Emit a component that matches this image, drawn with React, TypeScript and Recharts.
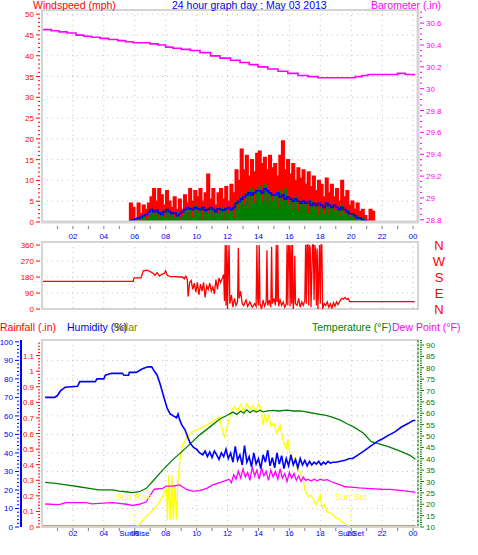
import React from "react";
import {
  ComposedChart,
  Area,
  Line,
  XAxis,
  YAxis,
  CartesianGrid,
  ReferenceArea,
  ReferenceLine,
  ReferenceDot,
} from "recharts";

type Pt = [number, number];

// wind samples every 10 minutes starting 05:30 (mph)
const windStart = 5.5;
const windStep = 1 / 6;
const windGust = [
  0, 4.5, 3.5,
  0.5, 4.5, 2, 4, 3, 4.5,
  6, 8, 5, 8, 6.5, 4,
  7.5, 5, 3.5, 6, 3, 5.5,
  3, 6.5, 4.5, 8, 5, 7.5,
  6, 8, 5, 7, 11.5, 5.5,
  8, 4, 7, 8, 5.5, 8.5,
  5, 9, 7, 12.5, 10, 17.5,
  12.5, 16, 11, 15, 12, 16.5,
  17, 14, 15.5, 12.5, 16, 13,
  14, 11, 16, 19.5, 12.5, 15,
  11.5, 14, 10, 13, 10.5, 12.5,
  9, 12, 8.5, 11, 7.5, 10,
  9, 6, 10.5, 7, 9, 6,
  8, 5, 10, 6, 7.5, 4,
  5, 3, 4.5, 2.5, 3, 1.5,
  0.5, 3, 2.5, 0,
];
const windSpeed = [
  0, 0.5, 0,
  0, 1, 0, 1.5, 0.5, 1,
  2.5, 1.5, 3, 0.5, 2.5, 1,
  3, 0.5, 2, 1, 2.5, 0,
  1.5, 3, 0.5, 3.5, 1, 4,
  2, 3.5, 0.5, 3, 2, 3.5,
  1, 3, 2, 3.5, 0.5, 3,
  2, 3.5, 1, 5, 3, 6,
  4, 7, 3, 8, 4.5, 7.5,
  8.5, 5, 9, 4, 7, 5,
  6.5, 3, 7.5, 5, 8, 4,
  5.5, 3, 6, 2.5, 5, 3.5,
  4.5, 2, 5, 3, 4, 1.5,
  3.5, 2, 4.5, 1.5, 4, 2.5,
  3, 1.5, 4, 2, 3, 1,
  2, 0.5, 1.5, 0.5, 1, 0,
  0, 0, 0, 0,
];
const windAvg = [
  0, 0.3, 0.5,
  0.8, 1, 1.2, 1.5, 1.8, 2.5,
  3, 2.5, 2.8, 2.2, 1.8, 2.5,
  3, 2.5, 2, 2.2, 1.5, 2,
  2.5, 3, 3.5, 3.2, 3, 3.5,
  3.2, 3, 3.5, 2.8, 3, 3.5,
  3, 2.5, 3.2, 3, 2.8, 3.2,
  3.5, 3, 3.5, 4.5, 5, 5.5,
  6, 6.5, 7, 6.5, 7, 7.5,
  7.5, 7, 8, 7.5, 7, 6.5,
  6.5, 7, 6, 6.5, 5.5, 6,
  5.5, 5, 5.5, 5, 4.5, 5,
  4.5, 5, 4, 4.5, 4, 4.5,
  4, 3.5, 4.5, 4, 3.5, 4,
  3.5, 3, 3.5, 3, 2.5, 2,
  2, 1.5, 1, 1, 0.5, 0.3,
  0, 0, 0, 0,
];

// barometer (in)
const barometer: Pt[] = [
  [0.06, 30.54], [0.6, 30.53], [1.1, 30.52], [1.62, 30.51], [2.2, 30.49], [2.7, 30.48],
  [3.2, 30.47], [3.75, 30.46], [4.3, 30.45], [4.9, 30.44], [5.4, 30.43], [5.89, 30.42],
  [6.5, 30.42], [6.99, 30.41], [7.5, 30.4], [8.0, 30.38], [8.47, 30.37], [9.0, 30.36],
  [9.6, 30.35], [10.22, 30.33], [10.9, 30.3], [11.51, 30.28], [12.2, 30.26], [12.81, 30.24],
  [13.4, 30.22], [13.97, 30.2], [14.6, 30.18], [15.27, 30.16], [15.9, 30.14], [16.56, 30.12],
  [17.2, 30.11], [17.85, 30.1], [18.4, 30.1], [18.95, 30.1], [19.6, 30.1], [20.25, 30.11],
  [20.7, 30.12], [21.09, 30.13], [21.7, 30.13], [22.38, 30.13], [23.0, 30.14], [23.5, 30.13],
  [24.13, 30.13],
];

// wind direction (degrees)
const windDirection: Pt[] = [
  [0.05, 155], [5.9, 155], [5.95, 175], [6.4, 175], [6.55, 215], [6.8, 218], [7.0, 210],
  [7.2, 200], [7.3, 190], [7.45, 205], [7.6, 185], [7.75, 195], [7.9, 200], [8.0, 215],
  [8.1, 190], [8.3, 182], [8.6, 182], [8.9, 180], [9.1, 180], [9.2, 170], [9.3, 185],
  [9.4, 165], [9.45, 70], [9.55, 150], [9.65, 160], [9.75, 110], [9.85, 145], [9.95, 95],
  [10.05, 150], [10.15, 80], [10.25, 140], [10.35, 100], [10.45, 150], [10.55, 65],
  [10.65, 130], [10.75, 110], [10.85, 145], [10.95, 100], [11.05, 125], [11.15, 85],
  [11.25, 165], [11.35, 110], [11.45, 175], [11.55, 150], [11.65, 170], [11.75, 195],
  [11.8, 45], [11.85, 360], [11.9, 20], [11.95, 360], [12.0, 0], [12.05, 250], [12.1, 360],
  [12.15, 30], [12.25, 80], [12.35, 10], [12.45, 60], [12.55, 20], [12.65, 40], [12.7, 345],
  [12.75, 60], [12.85, 100], [12.95, 30], [13.05, 20], [13.2, 50], [13.3, 15], [13.45, 40],
  [13.6, 10], [13.75, 30], [13.85, 15], [13.9, 360], [13.95, 60], [14.0, 20], [14.05, 360],
  [14.1, 30], [14.2, 0], [14.3, 50], [14.4, 15], [14.5, 40], [14.55, 330], [14.6, 20],
  [14.7, 50], [14.8, 10], [14.85, 350], [14.9, 30], [15.0, 60], [15.1, 20], [15.15, 360],
  [15.2, 40], [15.25, 360], [15.3, 15], [15.4, 50], [15.5, 20], [15.6, 40], [15.7, 10],
  [15.8, 30], [15.85, 360], [15.9, 20], [15.95, 360], [16.0, 350], [16.05, 15], [16.1, 360],
  [16.15, 30], [16.2, 360], [16.25, 0], [16.3, 50], [16.35, 300], [16.4, 30], [16.5, 20],
  [16.6, 60], [16.7, 10], [16.8, 40], [16.9, 20], [17.0, 50], [17.05, 360], [17.1, 30],
  [17.15, 360], [17.2, 360], [17.25, 20], [17.3, 360], [17.35, 340], [17.4, 10], [17.5, 360],
  [17.55, 360], [17.6, 50], [17.65, 360], [17.7, 320], [17.75, 20], [17.8, 340], [17.85, 0],
  [17.95, 360], [18.0, 30], [18.05, 360], [18.1, 360], [18.15, 0], [18.25, 30], [18.35, 20],
  [18.45, 40], [18.55, 10], [18.65, 30], [18.75, 5], [18.85, 35], [18.95, 15], [19.05, 40],
  [19.15, 25], [19.3, 50], [19.4, 60], [19.5, 55], [19.6, 65], [19.7, 55], [19.8, 60],
  [19.9, 42], [24.1, 42],
];

// rainfall (in)
const rainfall: Pt[] = [[0.05, 0], [24.15, 0]];

// humidity (%)
const humidity: Pt[] = [
  [0.2, 70], [0.8, 70], [1.0, 71], [1.2, 73.5], [1.5, 75.5], [2.3, 76], [2.45, 78.5],
  [3.45, 78.5], [3.55, 80], [4.0, 80], [4.1, 82], [4.5, 83], [5.2, 83], [5.3, 82], [5.6, 82],
  [5.65, 83.5], [6.1, 83.5], [6.2, 84], [6.5, 85.5], [6.85, 86.5], [7.1, 86.5], [7.2, 85],
  [7.45, 82], [7.65, 77], [7.85, 71], [8.1, 64], [8.3, 61], [8.5, 60], [8.7, 59], [8.8, 61],
  [8.9, 58], [9.05, 55], [9.25, 52.5], [9.45, 48], [9.6, 45], [9.8, 43], [10.0, 42],
  [10.2, 40], [10.4, 39], [10.55, 41], [10.7, 38], [10.85, 40.5], [11.0, 37.5], [11.15, 41],
  [11.3, 39], [11.45, 36.5], [11.6, 40], [11.75, 38], [11.9, 42], [12.05, 37], [12.2, 40],
  [12.35, 35], [12.5, 43.5], [12.65, 36], [12.8, 39], [12.95, 33.5], [13.1, 44], [13.25, 35],
  [13.4, 38], [13.55, 32.5], [13.7, 40], [13.85, 34], [14.0, 37], [14.15, 31.5], [14.3, 39],
  [14.45, 35], [14.6, 41.5], [14.75, 33], [14.9, 37.5], [15.05, 32], [15.2, 40], [15.35, 34],
  [15.5, 38.5], [15.65, 31.5], [15.8, 37], [15.95, 33], [16.1, 39], [16.25, 33.5],
  [16.4, 36.5], [16.55, 32], [16.7, 37], [16.85, 33.5], [17.0, 36], [17.15, 33], [17.3, 35.5],
  [17.45, 33.5], [17.6, 35], [17.75, 34], [17.9, 35.5], [18.05, 33.5], [18.2, 35], [18.35, 34],
  [18.5, 35.5], [18.65, 34.5], [18.8, 35], [19.0, 35], [19.3, 35.5], [19.6, 36], [19.9, 37],
  [20.1, 37], [20.45, 39], [20.9, 41.5], [21.3, 44], [21.75, 46.5], [22.0, 47.5],
  [22.4, 49.5], [22.85, 51.5], [23.25, 54], [23.7, 56], [24.0, 57.5], [24.15, 57.5],
];

// temperature (°F)
const temperature: Pt[] = [
  [0.2, 29.6], [0.9, 29.2], [1.55, 28.5], [2.4, 27.7], [3.05, 27], [3.7, 26.3], [4.55, 26.3],
  [5.0, 25.8], [5.45, 25.5], [5.85, 25.1], [6.3, 25.5], [6.75, 27], [7.15, 30], [7.8, 35],
  [8.45, 39.5], [9.35, 45], [10.2, 50.5], [11.05, 55], [11.5, 57.5], [11.95, 59],
  [12.35, 60.5], [12.6, 59.5], [12.85, 61], [13.05, 60], [13.25, 61.5], [13.45, 60.3],
  [13.65, 61.2], [13.9, 60.5], [14.1, 61.3], [14.3, 60.6], [14.6, 61], [14.95, 61.3],
  [15.3, 61], [15.85, 61.4], [16.3, 61], [16.7, 61], [17.1, 60.6], [17.55, 60], [18.0, 59.5],
  [18.45, 59], [18.9, 58], [19.3, 57], [19.7, 55.5], [20.15, 54], [20.8, 51.2], [21.3, 47.5],
  [21.8, 46.5], [22.4, 45.3], [23.25, 43.1], [23.8, 41.5], [24.15, 39.8],
];

// dew point (°F)
const dewPoint: Pt[] = [
  [0.2, 20.1], [1.1, 19.8], [1.55, 20.7], [2.85, 20.7], [3.25, 20.2], [3.7, 20.4],
  [4.55, 20.7], [5.0, 20.4], [5.45, 20], [5.85, 19.5], [6.3, 20], [6.75, 21.1], [7.08, 24.8],
  [7.27, 26.6], [7.8, 27], [8.05, 28], [8.45, 28], [8.9, 28.5], [9.35, 26.5], [9.74, 25.8],
  [10.2, 26], [10.65, 27], [11.05, 28.5], [11.5, 29.5], [11.95, 30.6], [12.1, 31],
  [12.25, 29.5], [12.4, 33], [12.55, 31], [12.7, 34.5], [12.85, 31.5], [13.0, 35.5],
  [13.15, 32], [13.3, 34], [13.45, 30.5], [13.6, 36.5], [13.75, 32.5], [13.9, 35], [14.05, 31],
  [14.2, 36], [14.35, 32.5], [14.5, 34.5], [14.65, 30.5], [14.8, 35], [14.95, 32], [15.1, 34.5],
  [15.25, 31], [15.4, 35.5], [15.55, 31.5], [15.7, 33.5], [15.85, 30], [16.0, 34],
  [16.15, 31.5], [16.3, 33.5], [16.45, 30.5], [16.6, 32.5], [16.75, 30], [16.9, 32],
  [17.05, 30.5], [17.2, 31], [17.4, 30.2], [17.6, 31], [17.8, 30.3], [18.0, 31], [18.2, 30.5],
  [18.45, 30.8], [18.7, 30], [19.0, 29.2], [19.3, 28.5], [19.6, 27.7], [20.0, 27.5],
  [20.5, 27.2], [21.0, 27], [21.5, 26.8], [22.0, 26.6], [22.5, 26.5], [23.0, 26.2],
  [23.6, 25.8], [24.15, 25.2],
];

// solar radiation (W/m²)
const solar: Pt[] = [
  [0.05, 0], [5.97, 0], [6.3, 11], [6.62, 46], [7.08, 82], [7.47, 118], [7.8, 162], [8.05, 207],
  [8.12, 37], [8.2, 278], [8.3, 37], [8.4, 278], [8.5, 40], [8.6, 225], [8.7, 40], [8.8, 250],
  [8.96, 385], [9.09, 438], [9.35, 476], [9.74, 510], [10.2, 525], [10.65, 545], [11.04, 565],
  [11.5, 590], [11.6, 540], [11.8, 483], [12.0, 540], [12.27, 626], [12.47, 643], [12.66, 620],
  [12.86, 655], [13.05, 610], [13.25, 660], [13.44, 630], [13.64, 650], [13.83, 615],
  [14.03, 660], [14.16, 625], [14.29, 545], [14.42, 605], [14.55, 560], [14.68, 600],
  [14.8, 540], [15.0, 555], [15.2, 500], [15.4, 545], [15.6, 460], [15.8, 420], [15.9, 470],
  [16.04, 385], [16.23, 340], [16.36, 375], [16.5, 313], [16.7, 290], [16.9, 255], [17.0, 198],
  [17.2, 163], [17.4, 170], [17.53, 150], [17.73, 118], [17.86, 144], [18.0, 172], [18.1, 107],
  [18.25, 120], [18.44, 80], [18.7, 75], [18.96, 52], [19.15, 45], [19.4, 28], [19.68, 12],
  [19.8, 8], [19.98, 0], [24.15, 0],
];

const sunRise = 5.97;
const sunSet = 19.98;

// axis ticks
const hourTicks = [1, 2, 3, 4, 5, 6, 7, 8, 9, 10, 11, 12, 13, 14, 15, 16, 17, 18, 19, 20, 21, 22, 23, 24];
const evenHours = [2, 4, 6, 8, 10, 12, 14, 16, 18, 20, 22, 24];
const evenHourLabels = ["02", "04", "06", "08", "10", "12", "14", "16", "18", "20", "22", "00"];
const windTickLabels = [0, 5, 10, 15, 20, 25, 30, 35, 40, 45, 50];
const baroTickLabels = [28.8, 29, 29.2, 29.4, 29.6, 29.8, 30, 30.2, 30.4, 30.6];
const dirTickLabels = [0, 90, 180, 270, 360];
const compassLabels = ["N", "E", "S", "W", "N"];
const rainTickLabels = [0, 0.1, 0.2, 0.3, 0.4, 0.5, 0.6, 0.7, 0.8, 0.9, 1, 1.1];
const humidityTickLabels = [0, 10, 20, 30, 40, 50, 60, 70, 80, 90, 100];
const tempTickLabels = [10, 15, 20, 25, 30, 35, 40, 45, 50, 55, 60, 65, 70, 75, 80, 85, 90];

const X_MAX = 24.32;
const PLOT_RIGHT = 418;
const FONT = "'Liberation Sans', Arial, sans-serif";
const FRAME = "#d4d4d4";
const GRID = "#c4c4c4";

const toPoints = (arr: Pt[]) => arr.map(([t, v]) => ({ t, v }));
const windPoints = (vals: number[]) => [
  { t: 0.05, v: 0 },
  ...vals.map((v, i) => ({ t: windStart + i * windStep, v })),
  { t: 24.1, v: 0 },
];

// majors plus minor ticks in between
const withMinors = (majors: number[], step: number, top: number) => {
  const out: number[] = [];
  const n = Math.round((top - majors[0]) / step);
  for (let i = 0; i <= n; i++) out.push(Math.round((majors[0] + i * step) * 1000) / 1000);
  return out;
};
const isMajor = (majors: number[], v: number) => majors.some((m) => Math.abs(m - v) < 1e-6);
const fmtNum = (v: number) => String(Math.round(v * 10) / 10);

const leftTick = (color: string, majors: number[], fmt: (v: number) => string = fmtNum) =>
  (p: any) => {
    const v = p.payload.value;
    const major = isMajor(majors, v);
    return (
      <g>
        <line x1={p.x - (major ? 6 : 4)} x2={p.x - 2} y1={p.y} y2={p.y} stroke={color} strokeWidth={1} />
        {major && (
          <text x={p.x - 8} y={p.y + 3} textAnchor="end" fill={color} fontSize={8} fontFamily={FONT}>
            {fmt(v)}
          </text>
        )}
      </g>
    );
  };

const rightTick = (color: string, majors: number[], fmt: (v: number) => string = fmtNum) =>
  (p: any) => {
    const v = p.payload.value;
    const major = isMajor(majors, v);
    return (
      <g>
        <line x1={p.x + 2} x2={p.x + (major ? 6 : 4)} y1={p.y} y2={p.y} stroke={color} strokeWidth={1} />
        {major && (
          <text x={p.x + 8} y={p.y + 3} textAnchor="start" fill={color} fontSize={8} fontFamily={FONT}>
            {fmt(v)}
          </text>
        )}
      </g>
    );
  };

// direction axis: degrees on the left, compass point beside the right edge
const directionTick = (p: any) => {
  const v = p.payload.value;
  const idx = dirTickLabels.indexOf(v);
  return (
    <g>
      <line x1={p.x - 6} x2={p.x - 2} y1={p.y} y2={p.y} stroke="#ff0000" />
      <text x={p.x - 8} y={p.y + 3} textAnchor="end" fill="#ff0000" fontSize={8} fontFamily={FONT}>
        {v}
      </text>
      <text x={PLOT_RIGHT + 21} y={p.y + 5} textAnchor="middle" fill="#ff0000" fontSize={13} fontFamily={FONT}>
        {compassLabels[idx]}
      </text>
    </g>
  );
};

const hourTick = (lineTop: number, textDy: number, extra: Record<string, string> = {}) => (p: any) => {
  const v = p.payload.value;
  const idx = evenHours.indexOf(v);
  const extraLabel = extra[String(v)];
  const label = idx >= 0 ? evenHourLabels[idx] : extraLabel;
  return (
    <g>
      {!extraLabel && (
        <line x1={p.x} x2={p.x} y1={p.y + lineTop} y2={p.y + lineTop + 3} stroke="#808080" />
      )}
      {label && (
        <text x={p.x} y={p.y + textDy} textAnchor="middle" fill="#0000ff" fontSize={8} fontFamily={FONT}>
          {label}
        </text>
      )}
    </g>
  );
};

const Caption = ({ left, top, color, children }: any) => (
  <div
    style={{
      position: "absolute",
      left,
      top,
      color,
      fontSize: 10.5,
      lineHeight: "13px",
      whiteSpace: "nowrap",
      fontFamily: FONT,
    }}
  >
    {children}
  </div>
);

const margin = { top: 10, right: 0, bottom: 0, left: 0 };

const WindPanel = () => (
  <ComposedChart width={478} height={245} margin={margin}>
    <ReferenceArea yAxisId="wind" x1={0} x2={X_MAX} y1={0} y2={51} fill="none" stroke={FRAME} strokeWidth={2} />
    <CartesianGrid yAxisId="wind" stroke={GRID} strokeDasharray="1 4" horizontalValues={windTickLabels} verticalValues={evenHours} />
    <XAxis
      type="number"
      dataKey="t"
      domain={[0, X_MAX]}
      allowDataOverflow
      ticks={hourTicks}
      interval={0}
      height={23}
      tickSize={0}
      tickMargin={0}
      tickLine={false}
      axisLine={{ stroke: FRAME, strokeWidth: 3 }}
      tick={hourTick(4, 16.5)}
    />
    <YAxis
      yAxisId="wind"
      orientation="left"
      width={42}
      type="number"
      domain={[0, 51]}
      allowDataOverflow
      ticks={withMinors(windTickLabels, 1, 50)}
      interval={0}
      tickSize={0}
      tickMargin={0}
      tickLine={false}
      axisLine={{ stroke: FRAME, strokeWidth: 2 }}
      tick={leftTick("#ff0000", windTickLabels)}
    />
    <YAxis
      yAxisId="baro"
      orientation="right"
      width={60}
      type="number"
      domain={[28.78, 30.72]}
      allowDataOverflow
      ticks={withMinors(baroTickLabels, 0.05, 30.7)}
      interval={0}
      tickSize={0}
      tickMargin={0}
      tickLine={false}
      axisLine={{ stroke: FRAME, strokeWidth: 3 }}
      tick={rightTick("#ff00ff", baroTickLabels)}
    />
    <Area yAxisId="wind" data={windPoints(windGust)} dataKey="v" type="stepAfter" fill="#ff0000" fillOpacity={1} stroke="#ff0000" strokeWidth={1.5} isAnimationActive={false} />
    <Area yAxisId="wind" data={windPoints(windSpeed)} dataKey="v" type="stepAfter" fill="#008000" fillOpacity={1} stroke="#008000" strokeWidth={1} isAnimationActive={false} />
    <Line yAxisId="wind" data={windPoints(windAvg)} dataKey="v" type="stepAfter" stroke="#0000ff" strokeWidth={1.6} dot={false} isAnimationActive={false} />
    <Line yAxisId="baro" data={toPoints(barometer)} dataKey="v" type="stepAfter" stroke="#ff00ff" strokeWidth={1.6} dot={false} isAnimationActive={false} />
  </ComposedChart>
);

const DirectionPanel = () => (
  <ComposedChart width={478} height={86} margin={{ top: 10, right: 0, bottom: 9, left: 0 }}>
    <ReferenceArea yAxisId="dir" x1={0} x2={X_MAX} y1={0} y2={377} fill="none" stroke={FRAME} strokeWidth={2} />
    <CartesianGrid yAxisId="dir" stroke={GRID} strokeDasharray="1 4" horizontalValues={[90, 180, 270]} verticalValues={evenHours} />
    <XAxis type="number" dataKey="t" domain={[0, X_MAX]} allowDataOverflow ticks={evenHours} hide />
    <YAxis
      yAxisId="dir"
      orientation="left"
      width={42}
      type="number"
      domain={[0, 377]}
      allowDataOverflow
      ticks={dirTickLabels}
      interval={0}
      tickSize={0}
      tickMargin={0}
      tickLine={false}
      axisLine={{ stroke: FRAME, strokeWidth: 2 }}
      tick={directionTick}
    />
    <YAxis yAxisId="pad" orientation="right" width={60} type="number" domain={[0, 1]} tick={false} tickLine={false} axisLine={false} />
    <Line yAxisId="dir" data={toPoints(windDirection)} dataKey="v" type="linear" stroke="#ff0000" strokeWidth={1.3} dot={false} isAnimationActive={false} />
  </ComposedChart>
);

// left axes: rainfall sits against the plot, humidity outside it
const ClimatePanel = () => (
  <ComposedChart width={478} height={215} margin={margin}>
    <ReferenceArea yAxisId="a_rain" x1={0} x2={X_MAX} y1={0} y2={1.2} fill="none" stroke={FRAME} strokeWidth={2} />
    <CartesianGrid yAxisId="b_hum" stroke={GRID} strokeDasharray="1 4" horizontalValues={[10, 20, 30, 40, 50, 60, 70, 80, 90]} verticalValues={evenHours} />
    <XAxis
      type="number"
      dataKey="t"
      domain={[0, X_MAX]}
      allowDataOverflow
      ticks={[...hourTicks, sunRise, sunSet]}
      interval={0}
      height={18}
      tickSize={0}
      tickMargin={0}
      tickLine={false}
      axisLine={{ stroke: FRAME, strokeWidth: 2 }}
      tick={hourTick(1, 8.5, { [String(sunRise)]: "SunRise", [String(sunSet)]: "SunSet" })}
    />
    <YAxis
      yAxisId="a_rain"
      orientation="left"
      width={21}
      type="number"
      domain={[0, 1.2]}
      allowDataOverflow
      ticks={withMinors(rainTickLabels, 0.02, 1.18)}
      interval={0}
      tickSize={0}
      tickMargin={0}
      tickLine={false}
      axisLine={{ stroke: FRAME, strokeWidth: 2 }}
      tick={leftTick("#ff0000", rainTickLabels)}
    />
    <YAxis
      yAxisId="b_hum"
      orientation="left"
      width={21}
      type="number"
      domain={[0, 101]}
      allowDataOverflow
      ticks={withMinors(humidityTickLabels, 2, 100)}
      interval={0}
      tickSize={0}
      tickMargin={0}
      tickLine={false}
      axisLine={{ stroke: "#0000ff", strokeWidth: 2 }}
      tick={leftTick("#0000ff", humidityTickLabels)}
    />
    <YAxis yAxisId="solar" orientation="right" width={0} type="number" domain={[0, 1000]} hide />
    <YAxis
      yAxisId="temp"
      orientation="right"
      width={60}
      type="number"
      domain={[10, 92.2]}
      allowDataOverflow
      ticks={withMinors(tempTickLabels, 1, 92)}
      interval={0}
      tickSize={0}
      tickMargin={0}
      tickLine={false}
      axisLine={{ stroke: "#008000", strokeWidth: 1, strokeDasharray: "2 2" }}
      tick={rightTick("#008000", tempTickLabels)}
    />
    <Line yAxisId="a_rain" data={toPoints(rainfall)} dataKey="v" type="linear" stroke="#ff0000" strokeWidth={3} dot={false} isAnimationActive={false} />
    <ReferenceLine yAxisId="solar" segment={[{ x: sunRise, y: 0 }, { x: sunRise, y: 82 }]} stroke="#ffff00" strokeDasharray="1 2" />
    <ReferenceLine yAxisId="solar" segment={[{ x: sunSet, y: 0 }, { x: sunSet, y: 128 }]} stroke="#ffff00" strokeDasharray="1 2" />
    <ReferenceDot yAxisId="solar" x={sunRise} y={160} r={0} stroke="none" label={{ value: "Sun Rise", position: "center", fill: "#ffff00", fontSize: 9, fontFamily: FONT }} />
    <ReferenceDot yAxisId="solar" x={sunSet} y={160} r={0} stroke="none" label={{ value: "Sun Set", position: "center", fill: "#ffff00", fontSize: 9, fontFamily: FONT }} />
    <Line yAxisId="solar" data={toPoints(solar)} dataKey="v" type="linear" stroke="#ffff00" strokeWidth={1.3} dot={false} isAnimationActive={false} />
    <Line yAxisId="temp" data={toPoints(temperature)} dataKey="v" type="linear" stroke="#008000" strokeWidth={1.3} dot={false} isAnimationActive={false} />
    <Line yAxisId="temp" data={toPoints(dewPoint)} dataKey="v" type="linear" stroke="#ff00ff" strokeWidth={1.3} dot={false} isAnimationActive={false} />
    <Line yAxisId="b_hum" data={toPoints(humidity)} dataKey="v" type="linear" stroke="#0000ff" strokeWidth={1.6} dot={false} isAnimationActive={false} />
  </ComposedChart>
);

export default function App() {
  return (
    <div
      style={{
        position: "absolute",
        left: 0,
        top: 0,
        width: 478,
        height: 555,
        background: "#ffffff",
        overflow: "hidden",
        fontFamily: FONT,
      }}
    >
      <div style={{ position: "absolute", left: 0, top: 0 }}>
        <WindPanel />
      </div>
      <div style={{ position: "absolute", left: 0, top: 232 }}>
        <DirectionPanel />
      </div>
      <div style={{ position: "absolute", left: 0, top: 330 }}>
        <ClimatePanel />
      </div>

      <Caption left={33} top={-1} color="#ff0000">Windspeed (mph)</Caption>
      <Caption left={172} top={-1} color="#0000ff">24 hour graph day : May 03 2013</Caption>
      <Caption left={371} top={-1} color="#ff00ff">Barometer (.in)</Caption>

      <Caption left={0} top={321} color="#ff0000">Rainfall (.in)</Caption>
      <Caption left={67} top={321} color="#0000ff">Humidity (%)</Caption>
      <Caption left={113} top={321} color="#808000">Solar</Caption>
      <Caption left={312} top={321} color="#008000">Temperature (°F)</Caption>
      <Caption left={392} top={321} color="#ff00ff">Dew Point (°F)</Caption>
    </div>
  );
}
